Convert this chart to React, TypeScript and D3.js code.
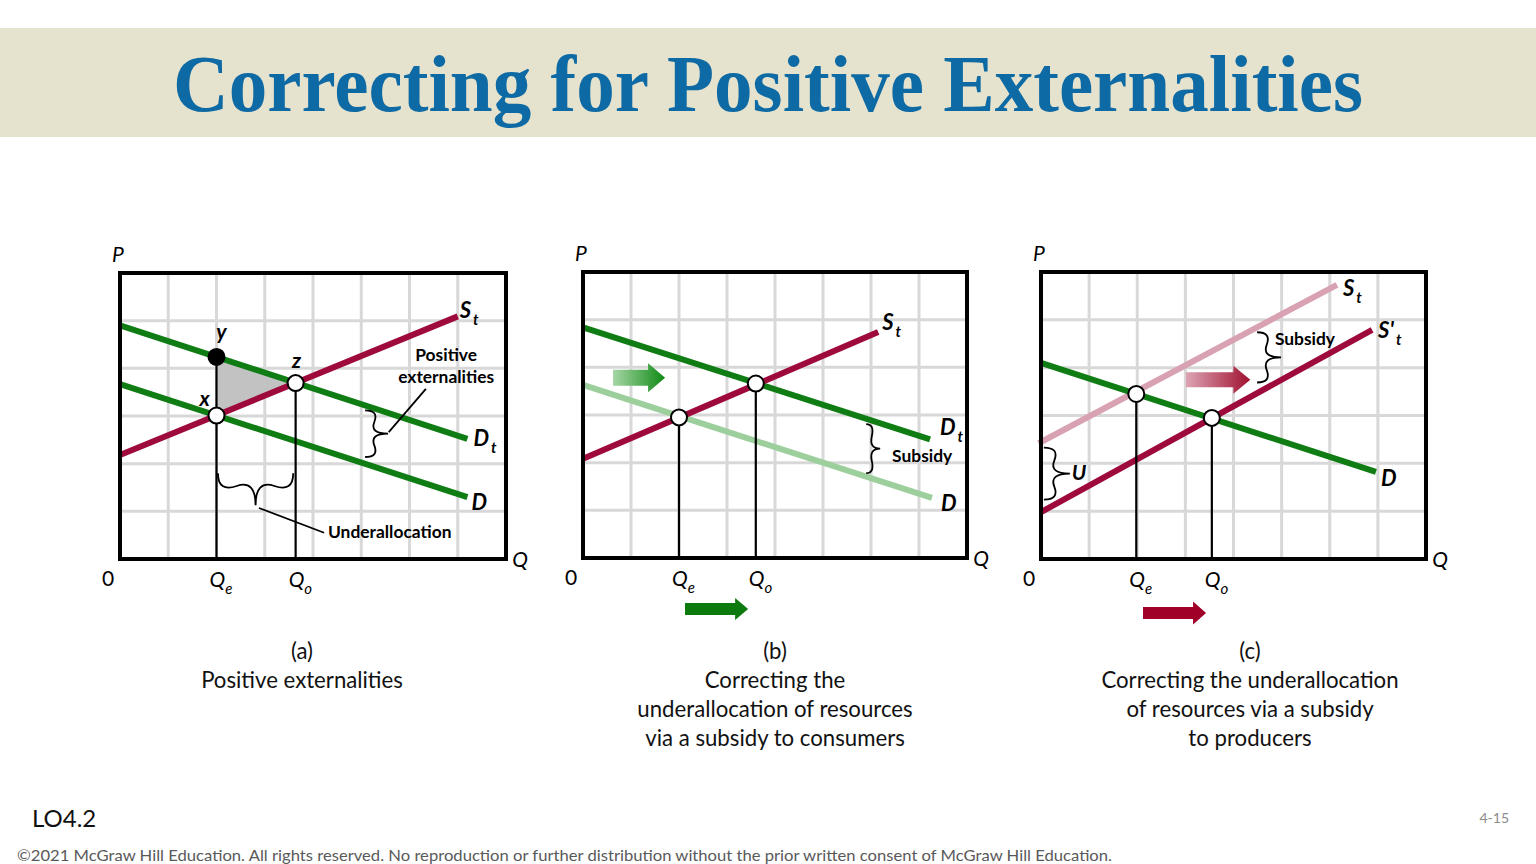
import React from "react";
import * as d3 from "d3";

type Pt = [number, number];

// ---------- shared grid ----------
const gridCols = [0, 1, 2, 3, 4, 5, 6, 7, 8];
const gridRows = [0, 1, 2, 3, 4, 5, 6];

// ---------- colours ----------
const RED = "#9E0A3B";
const GREEN = "#0F7D14";
const LIGHT_GREEN = "#9CCF9C";
const PINK = "#D9A2B3";

// ---------- panel (a) ----------
const aSupplyT: Pt[] = [[0, 2.18], [7.0, 5.09]];
const aDemandT: Pt[] = [[0, 4.9], [7.2, 2.52]];
const aDemand: Pt[] = [[0, 3.67], [7.2, 1.3]];
const aQuantities = [
  { sub: "e", q: 2.0, top: 4.24 },
  { sub: "o", q: 3.64, top: 3.69 },
];
const aPoints = [
  { name: "y", q: 2.0, p: 4.24, filled: true, dx: 5, dy: -18 },
  { name: "x", q: 2.0, p: 3.01, filled: false, dx: -12, dy: -10 },
  { name: "z", q: 3.64, p: 3.69, filled: false, dx: 1, dy: -15 },
];
const aTriangle: Pt[] = [[2.0, 4.24], [3.64, 3.69], [2.0, 3.01]];

// ---------- panel (b) ----------
const bSupplyT: Pt[] = [[0, 2.08], [6.15, 4.74]];
const bDemandT: Pt[] = [[0, 4.84], [7.23, 2.49]];
const bDemand: Pt[] = [[0, 3.63], [7.27, 1.26]];
const bQuantities = [
  { sub: "e", q: 2.0, top: 2.95 },
  { sub: "o", q: 3.6, top: 3.66 },
];
const bPoints = [
  { name: "", q: 2.0, p: 2.95, filled: false, dx: 0, dy: 0 },
  { name: "", q: 3.6, p: 3.66, filled: false, dx: 0, dy: 0 },
];

// ---------- panel (c) ----------
const cSupplyT: Pt[] = [[-0.05, 2.42], [6.15, 5.73]];
const cSupplyNew: Pt[] = [[0, 0.98], [6.88, 4.79]];
const cDemand: Pt[] = [[0, 4.1], [6.96, 1.82]];
const cQuantities = [
  { sub: "e", q: 1.98, top: 3.45 },
  { sub: "o", q: 3.55, top: 2.95 },
];
const cPoints = [
  { name: "", q: 1.98, p: 3.45, filled: false, dx: 0, dy: 0 },
  { name: "", q: 3.55, p: 2.95, filled: false, dx: 0, dy: 0 },
];

// ---------- captions ----------
const aCaption = ["(a)", "Positive externalities"];
const bCaption = ["(b)", "Correcting the", "underallocation of resources", "via a subsidy to consumers"];
const cCaption = ["(c)", "Correcting the underallocation", "of resources via a subsidy", "to producers"];

const TITLE = "Correcting for Positive Externalities";
const FOOTER =
  "©2021 McGraw Hill Education. All rights reserved. No reproduction or further distribution without the prior written consent of McGraw Hill Education.";

const LABEL_FONT = "Lato, 'Open Sans', sans-serif";

function bracePath(x1: number, y1: number, x2: number, y2: number, w: number, q = 0.6) {
  let dx = x1 - x2;
  let dy = y1 - y2;
  const len = Math.sqrt(dx * dx + dy * dy);
  dx /= len;
  dy /= len;
  const qx1 = x1 + q * w * dy, qy1 = y1 - q * w * dx;
  const qx2 = x1 - 0.25 * len * dx + (1 - q) * w * dy, qy2 = y1 - 0.25 * len * dy - (1 - q) * w * dx;
  const tx1 = x1 - 0.5 * len * dx + w * dy, ty1 = y1 - 0.5 * len * dy - w * dx;
  const qx3 = x2 + q * w * dy, qy3 = y2 - q * w * dx;
  const qx4 = x1 - 0.75 * len * dx + (1 - q) * w * dy, qy4 = y1 - 0.75 * len * dy - (1 - q) * w * dx;
  return `M ${x1} ${y1} Q ${qx1} ${qy1} ${qx2} ${qy2} T ${tx1} ${ty1} M ${x2} ${y2} Q ${qx3} ${qy3} ${qx4} ${qy4} T ${tx1} ${ty1}`;
}

function arrowPath(x0: number, x1: number, cy: number, body: number, head: number, headLen: number) {
  const xh = x1 - headLen;
  return `M ${x0} ${cy - body / 2} L ${xh} ${cy - body / 2} L ${xh} ${cy - head / 2} L ${x1} ${cy} L ${xh} ${cy + head / 2} L ${xh} ${cy + body / 2} L ${x0} ${cy + body / 2} Z`;
}

type Curve = { pts: Pt[]; color: string; label: string; sub?: string; dx: number; dy: number };
type Brace = { x1: number; y1: number; x2: number; y2: number; w: number };
type Note = { x: number; y: number; text: string; anchor?: string; italic?: boolean; size?: number };
type Arrow = { x0: number; x1: number; y: number; body: number; head: number; headLen: number; fill: string };

type PanelCfg = {
  left: number; right: number; top: number; bottom: number;
  curves: Curve[];
  quantities: { sub: string; q: number; top: number }[];
  points: { name: string; q: number; p: number; filled: boolean; dx: number; dy: number }[];
  triangle?: Pt[];
  braces: Brace[];
  leaders: [Pt, Pt][];
  notes: Note[];
  arrows: Arrow[];
  caption: string[];
  captionX: number;
};

function Panel({ cfg }: { cfg: PanelCfg }) {
  const x = d3.scaleLinear().domain([0, 8]).range([cfg.left, cfg.right]);
  const y = d3.scaleLinear().domain([0, 6]).range([cfg.bottom, cfg.top]);
  const line = d3.line<Pt>().x((d) => x(d[0])).y((d) => y(d[1]));
  return (
    <g>
      {gridCols.slice(1, -1).map((c) => (
        <line key={"c" + c} x1={x(c)} x2={x(c)} y1={cfg.top} y2={cfg.bottom} stroke="#D8D8D8" strokeWidth={3} />
      ))}
      {gridRows.slice(1, -1).map((r) => (
        <line key={"r" + r} x1={cfg.left} x2={cfg.right} y1={y(r)} y2={y(r)} stroke="#D8D8D8" strokeWidth={3} />
      ))}
      {cfg.triangle && <path d={line(cfg.triangle) + "Z"} fill="#C2C2C2" />}
      {cfg.arrows.map((a, i) => (
        <path key={"ar" + i} d={arrowPath(x(a.x0), x(a.x1), y(a.y), a.body, a.head, a.headLen)} fill={a.fill} />
      ))}
      {cfg.curves.map((c, i) => (
        <path key={"cv" + i} d={line(c.pts) || ""} stroke={c.color} strokeWidth={6} fill="none" />
      ))}
      {cfg.quantities.map((q, i) => (
        <line key={"q" + i} x1={x(q.q)} x2={x(q.q)} y1={y(0)} y2={y(q.top)} stroke="#000" strokeWidth={2.2} />
      ))}
      <rect x={cfg.left} y={cfg.top} width={cfg.right - cfg.left} height={cfg.bottom - cfg.top} fill="none" stroke="#000" strokeWidth={4} />
      {cfg.braces.map((b, i) => (
        <path key={"b" + i} d={bracePath(x(b.x1), y(b.y1), x(b.x2), y(b.y2), b.w)} fill="none" stroke="#000" strokeWidth={1.8} />
      ))}
      {cfg.leaders.map((l, i) => (
        <line key={"l" + i} x1={x(l[0][0])} y1={y(l[0][1])} x2={x(l[1][0])} y2={y(l[1][1])} stroke="#000" strokeWidth={1.8} />
      ))}
      {cfg.points.map((p, i) => (
        <g key={"p" + i}>
          <circle cx={x(p.q)} cy={y(p.p)} r={8} fill={p.filled ? "#000" : "#fff"} stroke="#000" strokeWidth={2} />
          {p.name && (
            <text x={x(p.q) + p.dx} y={y(p.p) + p.dy} textAnchor="middle" fontFamily={LABEL_FONT} fontWeight={700} fontStyle="italic" fontSize={21}>
              {p.name}
            </text>
          )}
        </g>
      ))}
      {cfg.curves.map((c, i) => {
        const end = c.pts[c.pts.length - 1];
        return (
          <text key={"cl" + i} x={x(end[0]) + c.dx} y={y(end[1]) + c.dy} fontFamily={LABEL_FONT} fontWeight={700} fontStyle="italic" fontSize={22}>
            {c.label}
            {c.sub && (
              <tspan dx={2} dy={7} fontSize={15}>
                {c.sub}
              </tspan>
            )}
          </text>
        );
      })}
      {cfg.notes.map((n, i) => (
        <text key={"n" + i} x={x(n.x)} y={y(n.y)} textAnchor={n.anchor || "start"} fontFamily={LABEL_FONT} fontWeight={700} fontStyle={n.italic ? "italic" : "normal"} fontSize={n.size || 17.4}>
          {n.text}
        </text>
      ))}
      {/* axis labels */}
      <text x={cfg.left - 2} y={cfg.top - 11} textAnchor="middle" fontFamily={LABEL_FONT} fontStyle="italic" fontSize={21}>P</text>
      <text x={cfg.right + 14} y={cfg.bottom + 8} textAnchor="middle" fontFamily={LABEL_FONT} fontStyle="italic" fontSize={21}>Q</text>
      <text x={cfg.left - 12} y={cfg.bottom + 27} textAnchor="middle" fontFamily={LABEL_FONT} fontSize={21}>0</text>
      {cfg.quantities.map((q, i) => (
        <text key={"ql" + i} x={x(q.q) - 7} y={cfg.bottom + 28} fontFamily={LABEL_FONT} fontStyle="italic" fontSize={21}>
          Q
          <tspan dx={0} dy={7} fontSize={15}>
            {q.sub}
          </tspan>
        </text>
      ))}
      {cfg.caption.map((t, i) => (
        <text key={"cap" + i} x={cfg.captionX} y={659 + i * 29} textAnchor="middle" fontFamily={LABEL_FONT} fontSize={22.2} fill="#111">
          {t}
        </text>
      ))}
    </g>
  );
}

const panelA: PanelCfg = {
  left: 120, right: 506, top: 273, bottom: 559,
  curves: [
    { pts: aDemandT, color: GREEN, label: "D", sub: "t", dx: 6, dy: 7 },
    { pts: aDemand, color: GREEN, label: "D", dx: 4, dy: 13 },
    { pts: aSupplyT, color: RED, label: "S", sub: "t", dx: 2, dy: 2 },
  ],
  quantities: aQuantities,
  points: aPoints,
  triangle: aTriangle,
  braces: [
    { x1: 5.08, y1: 2.14, x2: 5.08, y2: 3.12, w: 23 },
    { x1: 2.03, y1: 1.8, x2: 3.59, y2: 1.8, w: 32 },
  ],
  leaders: [
    [[6.34, 3.57], [5.57, 2.66]],
    [[2.88, 1.07], [4.23, 0.55]],
  ],
  notes: [
    { x: 6.76, y: 4.15, text: "Positive", anchor: "middle" },
    { x: 6.76, y: 3.69, text: "externalities", anchor: "middle" },
    { x: 4.31, y: 0.44, text: "Underallocation" },
  ],
  arrows: [],
  caption: aCaption,
  captionX: 302,
};

const panelB: PanelCfg = {
  left: 583, right: 967, top: 272, bottom: 558,
  curves: [
    { pts: bDemand, color: LIGHT_GREEN, label: "D", dx: 9, dy: 13 },
    { pts: bDemandT, color: GREEN, label: "D", sub: "t", dx: 10, dy: -4 },
    { pts: bSupplyT, color: RED, label: "S", sub: "t", dx: 4, dy: -2 },
  ],
  quantities: bQuantities,
  points: bPoints,
  braces: [{ x1: 5.9, y1: 1.78, x2: 5.9, y2: 2.81, w: 14 }],
  leaders: [],
  notes: [{ x: 6.44, y: 2.01, text: "Subsidy" }],
  arrows: [
    { x0: 0.625, x1: 1.71, y: 3.78, body: 16, head: 29, headLen: 17, fill: "url(#gradGreen)" },
    { x0: 2.125, x1: 3.44, y: -1.07, body: 12, head: 22, headLen: 13, fill: "#0C7A0C" },
  ],
  caption: bCaption,
  captionX: 775,
};

const panelC: PanelCfg = {
  left: 1041, right: 1426, top: 272, bottom: 559,
  curves: [
    { pts: cSupplyT, color: PINK, label: "S", sub: "t", dx: 6, dy: 11 },
    { pts: cDemand, color: GREEN, label: "D", dx: 5, dy: 14 },
    { pts: cSupplyNew, color: RED, label: "S'", sub: "t", dx: 6, dy: 8 },
  ],
  quantities: cQuantities,
  points: cPoints,
  braces: [
    { x1: 4.49, y1: 3.69, x2: 4.49, y2: 4.74, w: 24 },
    { x1: 0.06, y1: 1.24, x2: 0.06, y2: 2.33, w: 26 },
  ],
  leaders: [],
  notes: [
    { x: 4.86, y: 4.47, text: "Subsidy" },
    { x: 0.79, y: 1.66, text: "U", anchor: "middle", italic: true, size: 21 },
  ],
  arrows: [
    { x0: 3.01, x1: 4.35, y: 3.75, body: 15, head: 28, headLen: 17, fill: "url(#gradRed)" },
    { x0: 2.12, x1: 3.43, y: -1.13, body: 12, head: 23, headLen: 13, fill: "#A00028" },
  ],
  caption: cCaption,
  captionX: 1250,
};

export default function App() {
  return (
    <svg width={1536} height={864} viewBox="0 0 1536 864" style={{ position: "absolute", left: 0, top: 0, display: "block", background: "#fff" }}>
      <defs>
        <linearGradient id="gradGreen" x1="0" x2="1" y1="0" y2="0">
          <stop offset="0" stopColor="#A6D6A6" />
          <stop offset="1" stopColor="#0F8A14" />
        </linearGradient>
        <linearGradient id="gradRed" x1="0" x2="1" y1="0" y2="0">
          <stop offset="0" stopColor="#DDA4B4" />
          <stop offset="1" stopColor="#A0102F" />
        </linearGradient>
      </defs>
      <rect x={0} y={0} width={1536} height={864} fill="#fff" />
      <rect x={0} y={28} width={1536} height={109} fill="#E5E3CD" />
      <text x={768} y={111} textAnchor="middle" fontFamily="'Liberation Serif', 'Times New Roman', serif" fontWeight={700} fontSize={80} fill="#0E6AA4" textLength={1190} lengthAdjust="spacingAndGlyphs">
        {TITLE}
      </text>
      <Panel cfg={panelA} />
      <Panel cfg={panelB} />
      <Panel cfg={panelC} />
      <text x={32} y={827} fontFamily={LABEL_FONT} fontSize={24} fill="#111">LO4.2</text>
      <text x={1509} y={823} textAnchor="end" fontFamily={LABEL_FONT} fontSize={14} fill="#8C8C8C">4-15</text>
      <text x={17} y={861} fontFamily={LABEL_FONT} fontSize={16} fill="#595959" textLength={1095} lengthAdjust="spacingAndGlyphs">
        {FOOTER}
      </text>
    </svg>
  );
}
